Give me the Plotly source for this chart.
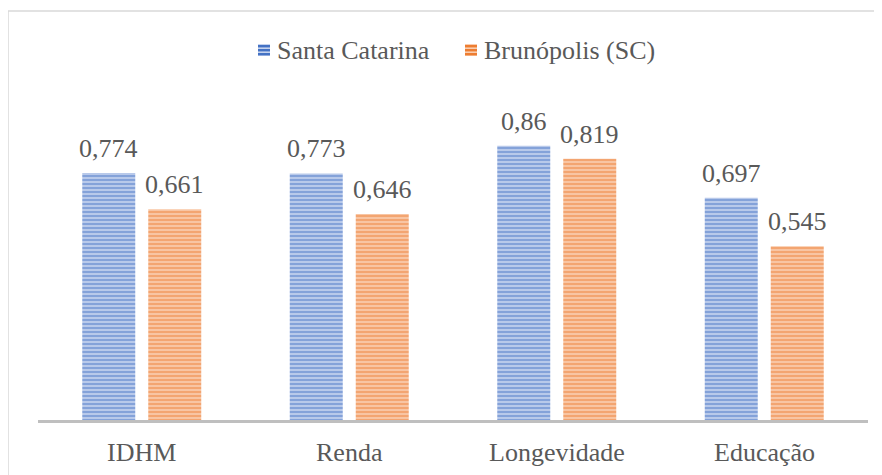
import plotly.graph_objects as go

categories = ["IDHM", "Renda", "Longevidade", "Educação"]
santa_catarina = [0.774, 0.773, 0.86, 0.697]
brunopolis = [0.661, 0.646, 0.819, 0.545]
series_names = ["Santa Catarina", "Brunópolis (SC)"]
series_fg = ["#4472C4", "#ED7D31"]
series_bg = ["#C5D3EE", "#F9CDB0"]

def fmt(v):
    return f"{v:.3f}".rstrip("0").replace(".", ",")

font_family = "'Liberation Serif', 'Times New Roman', Times, serif"
text_color = "#595959"
FS = 26

W, H = 882, 475
L, R, T, B = 30, 22, 10, 63
PW, PH = W - L - R, H - T - B
PX_PER_UNIT = 319
Y_MAX = PH / PX_PER_UNIT
CAT_W = PW / len(categories)

def px(x):
    return (x - L) / PW

def py(y):
    return (H - B - y) / PH

def cx(x):
    return (x - L) / CAT_W - 0.5

def vy(y):
    return (H - B - y) / PX_PER_UNIT

def bar_trace(name, values, fg, bg):
    return go.Bar(
        x=categories, y=values, name=name, showlegend=False,
        marker=dict(color=bg, line=dict(width=0),
                    pattern=dict(shape="-", fgcolor=fg, bgcolor=bg,
                                 size=4, solidity=0.6, fillmode="overlay")),
        cliponaxis=False,
    )

fig = go.Figure()
for name, vals, fg, bg in zip(series_names, [santa_catarina, brunopolis], series_fg, series_bg):
    fig.add_trace(bar_trace(name, vals, fg, bg))

annotations = []
for values, dx in ((santa_catarina, -33), (brunopolis, 33)):
    for c, v in zip(categories, values):
        annotations.append(dict(
            x=c, y=v, xref="x", yref="y", text=fmt(v), showarrow=False,
            xshift=dx, yshift=8, yanchor="bottom",
            font=dict(family=font_family, size=FS, color=text_color)))
for c in categories:
    annotations.append(dict(
        x=c, y=0, xref="x", yref="y", text=c, showarrow=False,
        yshift=-32, yanchor="middle",
        font=dict(family=font_family, size=FS, color=text_color)))

shapes = [dict(type="rect", xref="paper", yref="paper",
               x0=px(0), x1=px(W + 40), y0=py(H + 40), y1=py(3),
               line=dict(color="#D9D9D9", width=1.5), fillcolor="rgba(0,0,0,0)",
               layer="below")]
legend_x = [250, 457]
sym_top, sym_size = 36, 12
for name, lx, fg, bg in zip(series_names, legend_x, series_fg, series_bg):
    shapes.append(dict(type="rect", xref="paper", yref="paper",
                       x0=px(lx), x1=px(lx + sym_size), y0=py(sym_top + sym_size), y1=py(sym_top),
                       line=dict(width=0), fillcolor=bg))
    for k in range(3):
        y0 = sym_top + 1 + 4 * k
        shapes.append(dict(type="rect", xref="paper", yref="paper",
                           x0=px(lx), x1=px(lx + sym_size), y0=py(y0 + 2.4), y1=py(y0),
                           line=dict(width=0), fillcolor=fg))
    annotations.append(dict(
        x=cx(lx + sym_size + 5), y=vy(sym_top + sym_size / 2), xref="x", yref="y",
        text=f"<span style='font-family:Liberation Serif,serif'>{name}</span>",
        showarrow=False, xanchor="left", yanchor="middle",
        font=dict(family=font_family, size=FS, color=text_color)))

fig.update_layout(
    width=W, height=H,
    margin=dict(l=L, r=R, t=T, b=B),
    paper_bgcolor="white", plot_bgcolor="white",
    barmode="group", bargap=0.364, bargroupgap=0.197,
    font=dict(family=font_family, color=text_color, size=FS),
    showlegend=False,
    xaxis=dict(showline=True, linecolor="#BFBFBF", linewidth=3, ticks="",
               showticklabels=False, showgrid=False, range=[-0.5, len(categories) - 0.5]),
    yaxis=dict(range=[0, Y_MAX], visible=False, showgrid=False),
    annotations=annotations,
    shapes=shapes,
)

fig.write_html("out.html")
